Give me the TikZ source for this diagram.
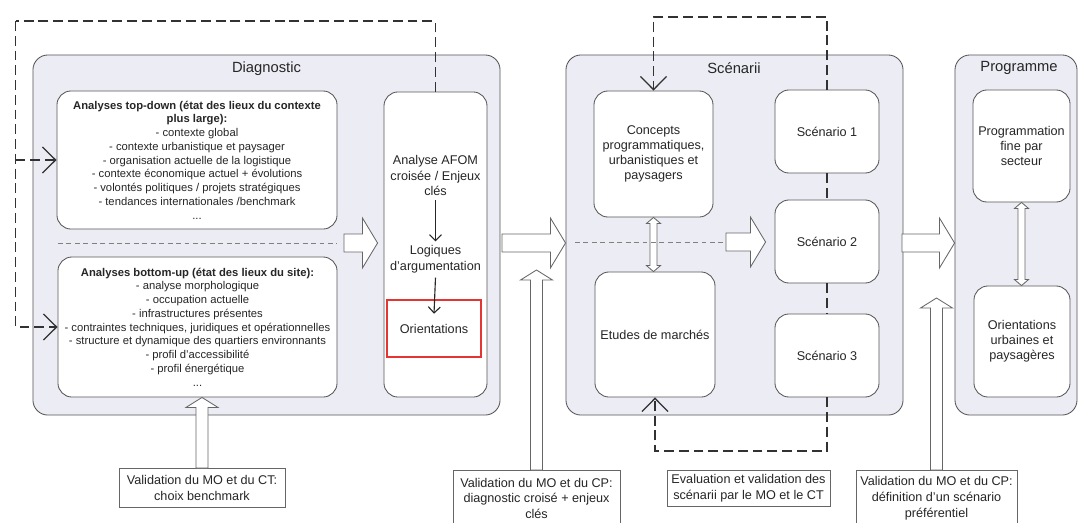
\documentclass[tikz,border=0pt]{standalone}
\usepackage{fontspec}
\setmainfont{Liberation Sans}
\usetikzlibrary{arrows.meta,calc}

\definecolor{panelfill}{RGB}{236,236,245}
\definecolor{panelline}{RGB}{85,85,85}
\definecolor{loopgray}{RGB}{50,50,50}
\definecolor{redline}{RGB}{228,52,52}

\tikzset{
  panel/.style={draw=panelline, fill=panelfill, rounded corners=0.375cm, line width=0.6pt, inner sep=0pt},
  card/.style={draw=panelline, fill=white, rounded corners=0.35cm, line width=0.6pt, align=center, inner sep=0pt, font=\fontsize{9}{10.8}\selectfont},
  listcard/.style={card, font=\fontsize{8}{9.8}\selectfont},
  valbox/.style={draw=gray!80!black, fill=white, line width=0.6pt, align=center, inner sep=0pt, anchor=north, font=\fontsize{9}{11.3}\selectfont},
  paneltitle/.style={font=\fontsize{10.5}{12}\selectfont},
  plaintext/.style={align=center, inner sep=0.1cm, font=\fontsize{9}{11.2}\selectfont},
  redbox/.style={draw=redline, line width=1.4pt, align=center, inner sep=0pt, font=\fontsize{9}{11.2}\selectfont},
  loopline/.style={draw=loopgray, line width=0.9pt, dash pattern=on 7pt off 3.5pt},
  looparrow/.style={loopline, -{Straight Barb[length=0.33cm,width=0.65cm]}},
  midline/.style={draw=gray, line width=0.6pt, dash pattern=on 3.5pt off 2.5pt},
  thinarrow/.style={draw=black!85, line width=0.8pt, -{Straight Barb[length=0.15cm,width=0.3cm]}},
  blockarrow/.style={draw=gray!80!black, fill=white, line width=0.6pt}
}

% fleche creuse vers la droite : depart, pointe
\newcommand{\blockright}[2]{%
  \draw[blockarrow] let \p1=(#1), \p2=(#2) in
    (\x1,\y1+0.225cm) -- (\x2-0.375cm,\y1+0.225cm) -- (\x2-0.375cm,\y1+0.62cm)
    -- (\x2,\y1) -- (\x2-0.375cm,\y1-0.62cm) -- (\x2-0.375cm,\y1-0.225cm)
    -- (\x1,\y1-0.225cm) -- cycle;}
% fleche creuse vers le haut : base, pointe
\newcommand{\blockup}[2]{%
  \draw[blockarrow] let \p1=(#1), \p2=(#2) in
    (\x1-0.15cm,\y1) -- (\x1-0.15cm,\y2-0.25cm) -- (\x1-0.4cm,\y2-0.25cm)
    -- (\x1,\y2) -- (\x1+0.4cm,\y2-0.25cm) -- (\x1+0.15cm,\y2-0.25cm)
    -- (\x1+0.15cm,\y1) -- cycle;}
% double fleche verticale : haut, bas
\newcommand{\dblarrow}[2]{%
  \draw[blockarrow] let \p1=(#1), \p2=(#2) in
    (\x1,\y1) -- (\x1+0.175cm,\y1-0.15cm) -- (\x1+0.0875cm,\y1-0.15cm)
    -- (\x1+0.0875cm,\y2+0.15cm) -- (\x1+0.175cm,\y2+0.15cm) -- (\x1,\y2)
    -- (\x1-0.175cm,\y2+0.15cm) -- (\x1-0.0875cm,\y2+0.15cm)
    -- (\x1-0.0875cm,\y1-0.15cm) -- (\x1-0.175cm,\y1-0.15cm) -- cycle;}

\begin{document}
\begin{tikzpicture}[x=0.025cm, y=-0.025cm, every node/.style={text=black!85}]
  \useasboundingbox (0,0) rectangle (1079,522);

  % Cadres des trois phases
  \node[panel, minimum width=11.675cm, minimum height=9cm] (diag) at (266.5,235) {};
  \node[panel, minimum width=8.425cm, minimum height=9cm] (scen) at (734.5,235) {};
  \node[panel, minimum width=3.05cm, minimum height=9cm] (prog) at (1016,235) {};
  \node[paneltitle] (diagtitle) at (266.5,69) {Diagnostic};
  \node[paneltitle] (scentitle) at (734,68) {Scénarii};
  \node[paneltitle] (progtitle) at (1019,68) {Programme};

  % Diagnostic
  \node[listcard, minimum width=7cm, minimum height=3.45cm] (topdown) at (197,160)
    {\textbf{Analyses top-down (état des lieux du contexte}\\
     \textbf{plus large):}\\
     - contexte global\\
     - contexte urbanistique et paysager\\
     - organisation actuelle de la logistique\\
     - contexte économique actuel + évolutions\\
     - volontés politiques / projets stratégiques\\
     - tendances internationales /benchmark\\
     ...};
  \node[listcard, minimum width=6.975cm, minimum height=3.5cm] (bottomup) at (197.5,327)
    {\textbf{Analyses bottom-up (état des lieux du site):}\\
     - analyse morphologique\\
     - occupation actuelle\\
     - infrastructures présentes\\
     - contraintes techniques, juridiques et opérationnelles\\
     - structure et dynamique des quartiers environnants\\
     - profil d'accessibilité\\
     - profil énergétique\\
     ...};
  \node[card, minimum width=2.575cm, minimum height=7.625cm] (afom) at (435.5,244.5) {};
  \node[plaintext] (afomtxt) at (435.5,175.5) {Analyse AFOM\\croisée / Enjeux\\clés};
  \node[plaintext] (logiq) at (435.5,259.5) {Logiques\\d'argumentation};
  \node[redbox, minimum width=2.35cm, minimum height=1.425cm] (orient) at (434,328.5) {Orientations};
  \draw[thinarrow] (afomtxt.south) -- (logiq.north);
  \draw[thinarrow] (logiq.south) -- ([yshift=0.37cm]orient.center);

  \coordinate (midL) at (58,243);
  \coordinate (midR) at (337,243);
  \coordinate (arrA) at (344,243);
  \coordinate (tipA) at ($(afom.west)+(-6,0)$);
  \draw[midline] (midL) -- (midR);
  \blockright{arrA}{tipA}

  % Scenarii
  \node[card, minimum width=2.975cm, minimum height=3.15cm] (concepts) at (653.5,154)
    {Concepts\\programmatiques,\\urbanistiques et\\paysagers};
  \node[card, minimum width=3cm, minimum height=3.125cm] (etudes) at (655,334.5) {Etudes de marchés};
  \node[card, minimum width=2.6cm, minimum height=2.075cm] (scen1) at (827,131.5) {Scénario 1};
  \node[card, minimum width=2.6cm, minimum height=2.075cm] (scen2) at (827,241.5) {Scénario 2};
  \node[card, minimum width=2.6cm, minimum height=2.075cm] (scen3) at (827,355.5) {Scénario 3};
  \dblarrow{concepts.south}{etudes.north}

  \coordinate (midSL) at (575,242);
  \coordinate (arrC) at (726,242);
  \coordinate (tipC) at ($(scen2.west)+(-9,0)$);
  \draw[midline] (midSL) -- (arrC);
  \blockright{arrC}{tipC}

  % Programme
  \node[card, minimum width=2.425cm, minimum height=2.8cm] (progfine) at (1021.5,146)
    {Programmation\\fine par\\secteur};
  \node[card, minimum width=2.4cm, minimum height=2.775cm] (orienturb) at (1022,341.5)
    {Orientations\\urbaines et\\paysagères};
  \dblarrow{progfine.south}{orienturb.north}

  % Passages entre phases
  \coordinate (arrB) at (502,243);
  \coordinate (arrD) at (902,243);
  \blockright{arrB}{scen.west}
  \blockright{arrD}{prog.west}

  % Boucles de retour
  \coordinate (loopTL) at (15.5,21);
  \draw[loopline] (afom.north) |- (loopTL);
  \draw[looparrow] (loopTL) |- (bottomup.west);
  \draw[looparrow] (loopTL |- topdown.west) -- (topdown.west);

  \coordinate (evalTL) at (653.5,17);
  \coordinate (evalBL) at (655,451);
  \draw[looparrow] (scen1.north) |- (evalTL) -- (concepts.north);
  \draw[loopline] (scen1.south) -- (scen2.north);
  \draw[loopline] (scen2.south) -- (scen3.north);
  \draw[looparrow] (scen3.south) |- (evalBL) -- (etudes.south);

  % Validations
  \node[valbox, minimum width=4.15cm, minimum height=0.975cm] (val1) at (202,468)
    {Validation du MO et du CT:\\choix benchmark};
  \node[valbox, minimum width=4.175cm, minimum height=1.4cm] (val2) at (536.5,470)
    {Validation du MO et du CP:\\diagnostic croisé + enjeux\\clés};
  \node[valbox, minimum width=4.075cm, minimum height=0.9cm] (val3) at (748.5,470)
    {Evaluation et validation des\\scénarii par le MO et le CT};
  \node[valbox, minimum width=4.025cm, minimum height=1.4cm] (val4) at (936.5,470)
    {Validation du MO et du CP:\\définition d'un scénario\\préférentiel};

  \coordinate (tipV1) at (val1.north |- bottomup.south);
  \coordinate (tipV2) at (536.5,270);
  \coordinate (tipV4) at (936.5,298);
  \blockup{val1.north}{tipV1}
  \blockup{val2.north}{tipV2}
  \blockup{val4.north}{tipV4}
\end{tikzpicture}
\end{document}
